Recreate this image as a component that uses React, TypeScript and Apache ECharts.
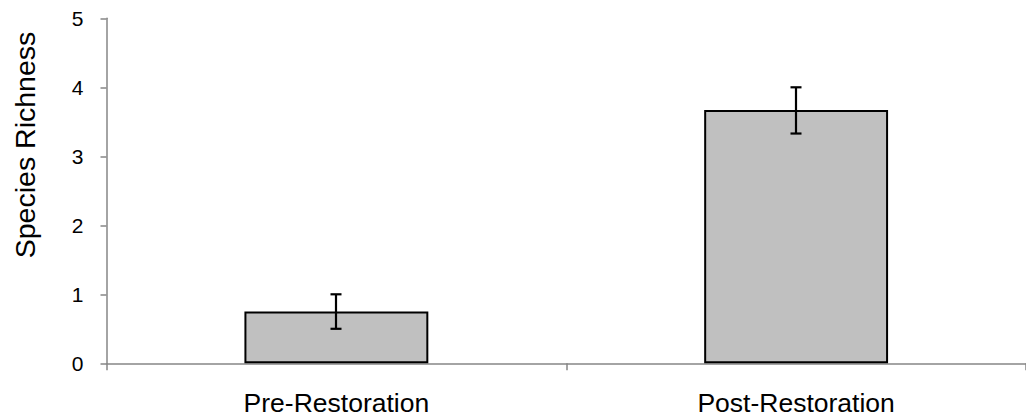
import React, { useEffect, useRef } from "react";
import * as echarts from "echarts";

const categories = ["Pre-Restoration", "Post-Restoration"];
const means = [0.75, 3.67];
const errLow = [0.5, 3.33];
const errHigh = [1.0, 4.0];
const yTicks = { min: 0, max: 5, interval: 1 };
const yTitle = "Species Richness";

export default function App() {
  const ref = useRef<HTMLDivElement>(null);
  useEffect(() => {
    if (!ref.current) return;
    const chart = echarts.init(ref.current, null, { renderer: "svg" });
    const font = "'Liberation Sans', Arial, sans-serif";
    chart.setOption({
      animation: false,
      backgroundColor: "#ffffff",
      grid: { left: 106.5, top: 18.3, width: 930, height: 345 },
      xAxis: {
        type: "category",
        data: categories,
        axisLine: { show: true, lineStyle: { color: "#868686", width: 1.5 } },
        axisTick: { show: true, length: 7, alignWithLabel: false, lineStyle: { color: "#868686", width: 1.5 } },
        axisLabel: { color: "#000", fontSize: 26.5, fontFamily: font, margin: 26 },
        splitLine: { show: false },
      },
      yAxis: {
        type: "value",
        min: yTicks.min,
        max: yTicks.max,
        interval: yTicks.interval,
        axisLine: { show: true, lineStyle: { color: "#868686", width: 1.5 } },
        axisTick: { show: true, length: 6, lineStyle: { color: "#868686", width: 1.5 } },
        axisLabel: { color: "#000", fontSize: 21, fontFamily: font, margin: 23 },
        splitLine: { show: false },
      },
      graphic: [
        {
          type: "text",
          x: 25,
          y: 145,
          rotation: Math.PI / 2,
          style: {
            text: yTitle,
            fontSize: 28.5,
            fontFamily: font,
            fill: "#000",
            textAlign: "center",
            textVerticalAlign: "middle",
          },
        },
      ],
      series: [
        {
          type: "bar",
          data: means,
          barWidth: "40%",
          itemStyle: { color: "#C0C0C0", borderColor: "#000", borderWidth: 2 },
          z: 2,
        },
        {
          type: "custom",
          data: categories.map((_, i) => [i, errLow[i], errHigh[i]]),
          z: 3,
          renderItem: (params: any, api: any) => {
            const i = api.value(0);
            const lo = api.coord([i, api.value(1)]);
            const hi = api.coord([i, api.value(2)]);
            const x = Math.round(lo[0]);
            const hw = 5.5;
            const st = { stroke: "#000", lineWidth: 2.2 };
            return {
              type: "group",
              children: [
                { type: "line", shape: { x1: x, y1: hi[1], x2: x, y2: lo[1] }, style: st },
                { type: "line", shape: { x1: x - hw, y1: hi[1], x2: x + hw, y2: hi[1] }, style: st },
                { type: "line", shape: { x1: x - hw, y1: lo[1], x2: x + hw, y2: lo[1] }, style: st },
              ],
            };
          },
        },
      ],
    });
    return () => chart.dispose();
  }, []);
  return (
    <div
      ref={ref}
      style={{ position: "fixed", left: 0, top: 0, width: 1026, height: 417 }}
    />
  );
}
